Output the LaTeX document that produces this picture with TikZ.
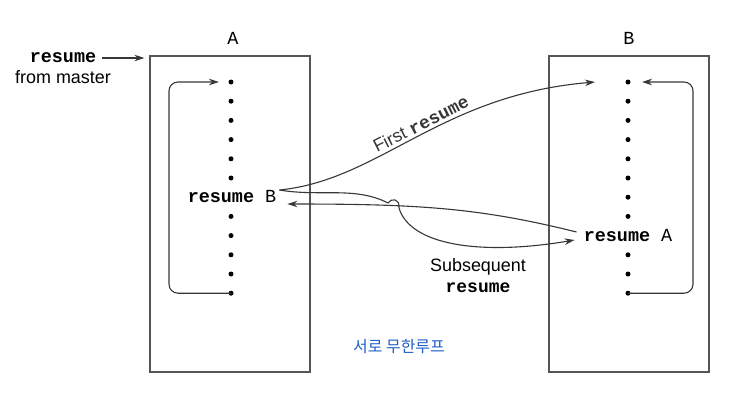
\documentclass[tikz,border=0pt]{standalone}
\usepackage{fontspec}
\setmainfont{Liberation Sans}
\setmonofont{Liberation Mono}
\newfontfamily\hangul{Noto Sans CJK KR}
\usepackage{tikz}
\usetikzlibrary{arrows.meta, positioning, calc}
\definecolor{linegray}{RGB}{55, 55, 55}
\definecolor{boxgray}{RGB}{85, 85, 85}
\definecolor{penblue}{RGB}{30, 95, 200}
\newcommand{\kw}[1]{\texttt{\textbf{#1}}}
\tikzset{
  procbox/.style  = {rectangle, draw=boxgray, line width=1.2bp, minimum width=160bp, minimum height=316bp},
  dot/.style      = {circle, fill=black, inner sep=0pt, minimum size=5bp},
  codetxt/.style  = {font=\fontsize{18.5}{20}\selectfont\ttfamily, inner sep=3bp},
  lbl/.style      = {font=\fontsize{18}{21}\selectfont, align=center, inner sep=2bp},
  flow/.style     = {-{Stealth[length=10bp, width=6.5bp]}, line width=1.1bp, linegray},
}

\begin{document}
\begin{tikzpicture}[x=1bp, y=-1bp]

\useasboundingbox (0,0) rectangle (730,410);

% the two coroutines
\node[procbox] (boxA) at (230,214) {};
\node[procbox] (boxB) at (629,214) {};
\node[codetxt] (titleA) at (233,38) {A};
\node[codetxt] (titleB) at (629,38) {B};

% entry from master
\node[codetxt] (mkw) at (63,58) {\kw{resume}};
\node[lbl] (mfrom) at (63,77) {from master};
\draw[flow, shorten <=3bp, shorten >=5bp] (mkw.east) -- (mkw.east -| boxA.west);

% statements in A
\foreach \i in {0,...,11}{
  \ifnum\i=6\else
    \node[dot] (a\i) at (231,{82+19.2*\i}) {};
  \fi
}
\node[codetxt] (resB) at (232,197) {\kw{resume} B};

% statements in B
\foreach \i in {0,...,11}{
  \ifnum\i=8\else
    \node[dot] (b\i) at (628,{82+19.2*\i}) {};
  \fi
}
\node[codetxt] (resA) at (628,236) {\kw{resume} A};

% loops back to the top
\draw[flow, rounded corners=9bp] (a11.center) -- ++(-62,0) |- ([xshift=-12bp]a0.center);
\draw[flow, rounded corners=9bp] (b11.center) -- ++(65,0) |- ([xshift=14bp]b0.center);

% first resume
\draw[flow] ([yshift=7bp]resB.east) .. controls (380,180) and (440,95) .. ([xshift=-33bp]b0.center)
  node[lbl, pos=0.53, sloped, above, inner sep=3bp] (firstlbl) {First \kw{resume}};

% back from B to A
\draw[flow] ([xshift=-4bp, yshift=4bp]resA.west) .. controls (480,208) and (420,204) .. ([xshift=8bp, yshift=-7bp]resB.east);

% subsequent resume (hops over the line above)
\draw[flow] ([yshift=7bp]resB.east) .. controls (320,197) and (355,186) .. (388,203)
  .. controls (391,198) and (400,198) .. (399,208)
  .. controls (410,245) and (480,256) .. ([xshift=-6bp, yshift=-4bp]resA.west);
\node[lbl] (sublbl) at (478,276) {Subsequent\\\kw{resume}};

% handwritten note
\node[font=\fontsize{16}{18}\selectfont\hangul, text=penblue] (note) at (399,347) {서로 무한루프};

\end{tikzpicture}
\end{document}
